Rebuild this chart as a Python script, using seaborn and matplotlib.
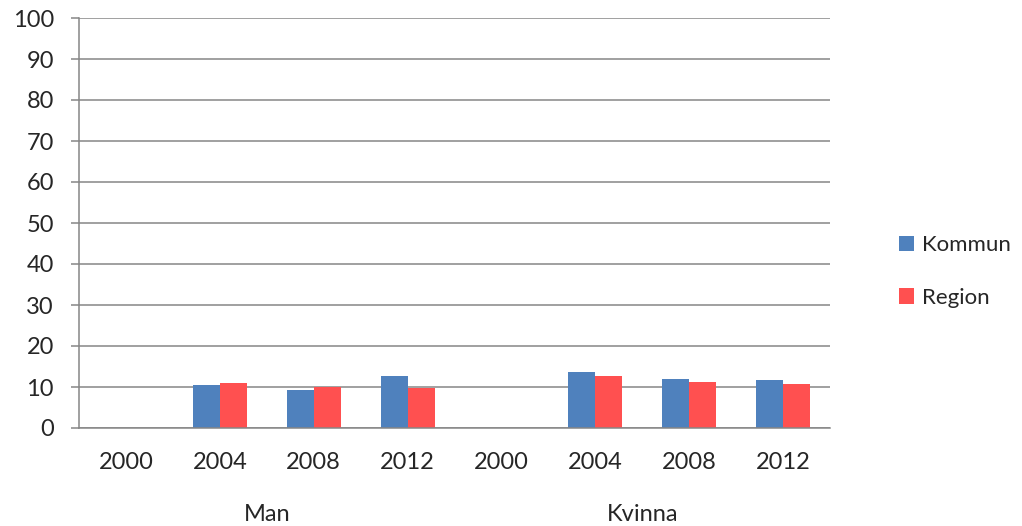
import pandas as pd
import matplotlib.pyplot as plt
import seaborn as sns

groups = ['Man', 'Kvinna']
years = ['2000', '2004', '2008', '2012']
series = ['Kommun', 'Region']
kommun = [0, 10.5, 9.3, 12.6, 0, 13.7, 12.0, 11.8]
region = [0, 10.9, 9.9, 9.8, 0, 12.8, 11.1, 10.7]
colors = ['#4F81BD', '#FF5050']

cats = [f'{g} {y}' for g in groups for y in years]
df = pd.DataFrame({
    'cat': cats * 2,
    'serie': ['Kommun'] * len(cats) + ['Region'] * len(cats),
    'value': kommun + region,
})

sns.set_style('white')
plt.rcParams['font.family'] = ['Lato', 'DejaVu Sans']

fig = plt.figure(figsize=(10.22, 5.26), dpi=100)
ax = fig.add_axes([79 / 1022, 1 - 428 / 526, 751 / 1022, 410 / 526])

sns.barplot(data=df, x='cat', y='value', hue='serie', order=cats,
            hue_order=series, palette=colors, width=0.575, ax=ax,
            saturation=1, linewidth=0, legend=True)

ax.set_ylim(0, 100)
ax.set_yticks(range(0, 101, 10))
ax.set_xlim(-0.5, len(cats) - 0.5)
ax.yaxis.grid(True, color='#868686', lw=1.1)
ax.set_axisbelow(True)
for side in ['top', 'right']:
    ax.spines[side].set_visible(False)
ax.spines['left'].set_color('#868686')
ax.spines['bottom'].set_color('#868686')
ax.spines['left'].set_linewidth(1.1)
ax.spines['bottom'].set_linewidth(1.1)
ax.tick_params(axis='y', left=True, length=6, color='#868686', width=1.1,
               labelsize=17, pad=12)
ax.tick_params(axis='x', bottom=False, labelsize=17, pad=14)
ax.set_xticks(range(len(cats)))
ax.set_xticklabels(years * len(groups))
ax.set_xlabel('')
ax.set_ylabel('')

for i, g in enumerate(groups):
    ax.text(i * 4 + 1.5, -0.212, g, transform=ax.get_xaxis_transform(),
            ha='center', va='center', fontsize=17)

handles, labels = ax.get_legend_handles_labels()
ax.legend(handles, labels, loc='center left', bbox_to_anchor=(0.864, 0.484),
          bbox_transform=fig.transFigure, frameon=False, fontsize=16,
          handlelength=0.7, handleheight=0.7, handletextpad=0.35,
          labelspacing=1.45, borderpad=0.2)

fig.savefig('out.png', dpi=100)
